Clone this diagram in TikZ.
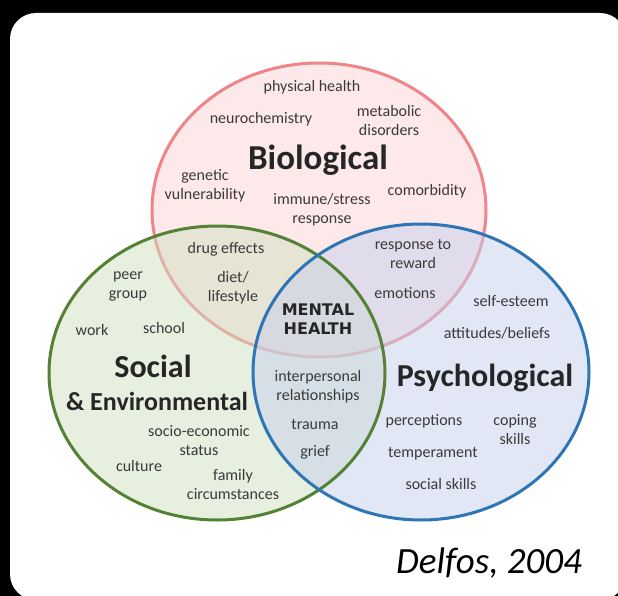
\documentclass[tikz,border=0pt]{standalone}
\usepackage{fontspec}
\setmainfont{Carlito}
\newfontfamily\mhfont{DejaVu Sans}

\definecolor{bioline}{RGB}{240,132,137}
\definecolor{biofill}{RGB}{253,233,234}
\definecolor{socline}{RGB}{84,130,53}
\definecolor{socfill}{RGB}{209,225,191}
\definecolor{psyline}{RGB}{46,117,182}
\definecolor{psyfill}{RGB}{199,209,237}
\definecolor{itemgray}{RGB}{58,58,58}
\definecolor{headgray}{RGB}{38,38,38}

\tikzstyle{item} = [align=center, text=itemgray, inner sep=0pt, font=\fontsize{16}{19}\selectfont]
\tikzstyle{head} = [align=center, text=headgray, inner sep=0pt, font=\bfseries\fontsize{35}{40}\selectfont]
\tikzstyle{ring} = [line width=3pt]

\begin{document}
\begin{tikzpicture}[x=1pt, y=-1pt]
    \useasboundingbox (0,0) rectangle (618,596);
    \fill[black] (0,0) rectangle (618,596);
    \fill[white, rounded corners=26pt] (10,13) rectangle (626,600);

    % the three circles
    \filldraw[ring, draw=bioline, fill=biofill] (319,210) ellipse [x radius=167pt, y radius=147pt];
    \fill[socfill, fill opacity=0.5] (217,373) ellipse [x radius=168pt, y radius=147pt];
    \fill[psyfill, fill opacity=0.5] (421,372) ellipse [x radius=168pt, y radius=148pt];
    \draw[ring, socline] (217,373) ellipse [x radius=168pt, y radius=147pt];
    \draw[ring, psyline] (421,372) ellipse [x radius=168pt, y radius=148pt];

    % biological
    \node[item] (phys) at (312,87) {physical health};
    \node[item] (neuro) at (261,119) {neurochemistry};
    \node[item] (meta) at (389,121) {metabolic\\disorders};
    \node[head] (bio) at (318,160) {Biological};
    \node[item] (gene) at (205,186) {genetic\\vulnerability};
    \node[item] (immu) at (322,210) {immune/stress\\response};
    \node[item] (como) at (427,191) {comorbidity};

    % overlaps
    \node[item] (drug) at (226,249) {drug effects};
    \node[item] (diet) at (233,288) {diet/\\lifestyle};
    \node[item] (rewa) at (413,254) {response to\\reward};
    \node[item] (emot) at (405,293) {emotions};
    \node[align=center, text=headgray, inner sep=0pt, font=\mhfont\bfseries\fontsize{16}{18.5}\selectfont] (mh) at (318,319) {MENTAL\\HEALTH};
    \node[item] (inte) at (318,387) {interpersonal\\relationships};
    \node[item] (trau) at (315,424) {trauma};
    \node[item] (grie) at (315,452) {grief};

    % social
    \node[item] (peer) at (128,286) {peer\\group};
    \node[item] (work) at (92,330) {work};
    \node[item] (scho) at (164,328) {school};
    \node[head, font=\bfseries\fontsize{32}{36}\selectfont] (soc) at (153,366) {Social};
    \node[head, font=\bfseries\fontsize{26}{30}\selectfont] (env) at (157,401) {\& Environmental};
    \node[item] (socio) at (199,441) {socio-economic\\status};
    \node[item] (cult) at (139,466) {culture};
    \node[item] (fami) at (233,484) {family\\circumstances};

    % psychological
    \node[item] (self) at (511,301) {self-esteem};
    \node[item] (atti) at (497,333) {attitudes/beliefs};
    \node[head, font=\bfseries\fontsize{32}{36}\selectfont] (psy) at (485,378) {Psychological};
    \node[item] (perc) at (424,421) {perceptions};
    \node[item] (copi) at (515,430) {coping\\skills};
    \node[item] (temp) at (433,454) {temperament};
    \node[item] (sski) at (441,484) {social skills};

    \node[inner sep=0pt, font=\itshape\fontsize{37}{42}\selectfont] (ref) at (489,563) {Delfos, 2004};
\end{tikzpicture}
\end{document}
